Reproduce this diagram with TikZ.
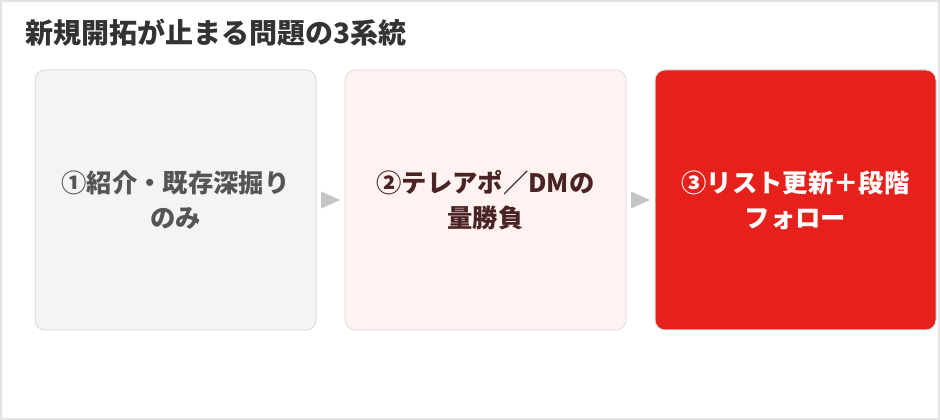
\documentclass[tikz,border=0pt]{standalone}
\usepackage{fontspec}
\setmainfont{Noto Sans CJK JP}
\usepackage{xcolor}
\usetikzlibrary{positioning, calc}

\definecolor{framegray}{HTML}{E3E3E3}
\definecolor{titlegray}{HTML}{333333}
\definecolor{tipgray}{HTML}{C4C4C4}
\definecolor{greyfill}{HTML}{F4F4F4}
\definecolor{greyline}{HTML}{DDDDDD}
\definecolor{greytext}{HTML}{555555}
\definecolor{pinkfill}{HTML}{FFF3F1}
\definecolor{pinkline}{HTML}{E8DEDC}
\definecolor{pinktext}{HTML}{4A2424}
\definecolor{redfill}{HTML}{E6201A}

\begin{document}
\begin{tikzpicture}[x=0.75pt, y=-0.75pt, node distance=21pt,
  stage/.style={rectangle, rounded corners=7.5pt, draw, line width=0.75pt,
    minimum width=210.75pt, minimum height=195pt, inner sep=0pt, align=center,
    font=\fontsize{19}{26}\selectfont\bfseries}]
\useasboundingbox (0,0) rectangle (940,420);
\draw[framegray, line width=1.5pt] (1,1) rectangle (939,419);

\node[anchor=west, text=titlegray, inner sep=0pt, font=\fontsize{21}{25}\selectfont\bfseries] (title) at (25,33) {新規開拓が止まる問題の3系統};

\node[stage, fill=greyfill, draw=greyline, text=greytext] (first) at (175.5,200) {①紹介・既存深掘り\\のみ};
\node[stage, fill=pinkfill, draw=pinkline, text=pinktext, right=of first] (second) {②テレアポ／DMの\\量勝負};
\node[stage, fill=redfill, draw=greyline, text=white, right=of second] (third) {③リスト更新＋段階\\フォロー};

\coordinate (m1) at ($(first.east)!0.5!(second.west)$);
\coordinate (m2) at ($(second.east)!0.5!(third.west)$);
\fill[tipgray] ($(m1)+(-9.5,-8.5)$) -- ($(m1)+(9.5,0)$) -- ($(m1)+(-9.5,8.5)$) -- cycle;
\fill[tipgray] ($(m2)+(-9.5,-8.5)$) -- ($(m2)+(9.5,0)$) -- ($(m2)+(-9.5,8.5)$) -- cycle;
\end{tikzpicture}
\end{document}
